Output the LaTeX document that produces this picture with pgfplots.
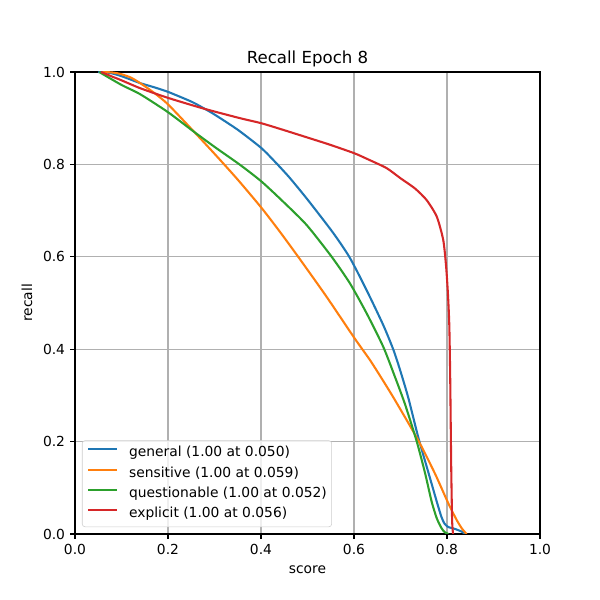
\documentclass[border=0pt]{standalone}
\usepackage{pgfplots}
\pgfplotsset{compat=1.18}
\usepackage{fontspec}
\setmainfont{DejaVu Sans}
\definecolor{tabblue}{HTML}{1F77B4}
\definecolor{taborange}{HTML}{FF7F0E}
\definecolor{tabgreen}{HTML}{2CA02C}
\definecolor{tabred}{HTML}{D62728}
\definecolor{gridgray}{HTML}{B0B0B0}
\definecolor{legframe}{HTML}{CCCCCC}
\begin{document}
\begin{tikzpicture}
\path[use as bounding box] (-0.75in,-0.66in) rectangle (5.25in,5.34in);
\begin{axis}[
  at={(0,0)}, anchor=south west,
  scale only axis, width=4.65in, height=4.62in,
  xmin=0, xmax=1, ymin=0, ymax=1,
  xtick={0,0.2,0.4,0.6,0.8,1}, ytick={0,0.2,0.4,0.6,0.8,1},
  /pgf/number format/assume math mode=true,
  /pgf/number format/.cd, fixed, fixed zerofill, precision=1, /pgfplots/.cd,
  tick align=outside, major tick length=3.5pt,
  tick style={black, line width=0.8pt},
  xtick pos=bottom, ytick pos=left,
  axis line style={line width=0.8pt},
  grid=major, grid style={gridgray, line width=0.8pt},
  tick label style={font=\fontsize{10}{12}\selectfont},
  xticklabel style={inner sep=0pt, anchor=north, yshift=-3.5pt},
  yticklabel style={inner sep=0pt, anchor=east, xshift=-3.5pt},
  title={Recall Epoch 8},
  every axis title shift=0pt,
  title style={font=\fontsize{12}{14}\selectfont, at={(axis description cs:0.5,1)}, anchor=base, yshift=5.8pt, inner sep=0pt},
  xlabel={score}, ylabel={recall},
  label style={font=\fontsize{10}{12}\selectfont, inner sep=0pt},
  xlabel style={at={(axis description cs:0.5,-0.0855)}, anchor=base},
  ylabel style={at={(axis description cs:-0.092,0.5)}, anchor=base},
  legend style={at={(axis description cs:0.015,0.015)}, anchor=south west,
    draw=legframe, rounded corners=2pt, fill=white, fill opacity=0.8, text opacity=1,
    font=\fontsize{10}{12}\selectfont, inner xsep=3.5pt, inner ysep=4pt,
    nodes={inner sep=0pt, text height=7.6pt, text depth=2.4pt},
    row sep=4.75pt, column sep=7.9pt},
  legend cell align=left,
  legend image code/.code={\draw[#1] (0cm,0.1cm) -- (0.29in,0.1cm);},
  every axis plot/.append style={line width=1.5pt, line join=round, smooth, tension=0.4},
]
\addplot[tabblue] coordinates {
(0.050,1.000) (0.075,0.998) (0.10,0.991) (0.14,0.976) (0.17,0.967) (0.20,0.957)
(0.25,0.936) (0.276,0.922) (0.30,0.908) (0.35,0.875) (0.40,0.836) (0.426,0.810)
(0.46,0.773) (0.50,0.724) (0.555,0.652) (0.591,0.598) (0.627,0.528) (0.663,0.452)
(0.685,0.398) (0.70,0.352) (0.717,0.294) (0.738,0.210) (0.760,0.133) (0.778,0.070)
(0.788,0.037) (0.795,0.022) (0.803,0.015) (0.817,0.011) (0.832,0.005) (0.839,0.000)};
\addlegendentry{general (1.00 at 0.050)}
\addplot[taborange] coordinates {
(0.059,1.000) (0.08,0.999) (0.097,0.996) (0.12,0.988) (0.14,0.976) (0.17,0.955)
(0.20,0.930) (0.252,0.875) (0.30,0.823) (0.35,0.767) (0.401,0.706) (0.44,0.655)
(0.48,0.600) (0.54,0.515) (0.601,0.424) (0.634,0.377) (0.66,0.336) (0.688,0.290)
(0.738,0.203) (0.774,0.131) (0.803,0.066) (0.821,0.030) (0.832,0.012) (0.842,0.000)};
\addlegendentry{sensitive (1.00 at 0.059)}
\addplot[tabgreen] coordinates {
(0.052,1.000) (0.10,0.972) (0.14,0.952) (0.20,0.913) (0.254,0.872) (0.30,0.838)
(0.355,0.799) (0.401,0.763) (0.448,0.719) (0.498,0.669) (0.552,0.600) (0.591,0.543)
(0.627,0.478) (0.663,0.405) (0.69,0.335) (0.71,0.280) (0.735,0.200) (0.753,0.131)
(0.767,0.070) (0.778,0.034) (0.788,0.013) (0.795,0.004) (0.803,0.000)};
\addlegendentry{questionable (1.00 at 0.052)}
\addplot[tabred] coordinates {
(0.056,1.000) (0.08,0.990) (0.10,0.982) (0.14,0.965) (0.20,0.944) (0.276,0.921)
(0.355,0.900) (0.401,0.889) (0.45,0.874) (0.516,0.853) (0.55,0.842) (0.601,0.824)
(0.63,0.811) (0.670,0.792) (0.70,0.770) (0.731,0.748) (0.756,0.723) (0.778,0.687)
(0.792,0.636) (0.798,0.580) (0.802,0.520) (0.805,0.450) (0.807,0.330) (0.809,0.150)
(0.811,0.030) (0.813,0.000)};
\addlegendentry{explicit (1.00 at 0.056)}
\end{axis}
\end{tikzpicture}
\end{document}
